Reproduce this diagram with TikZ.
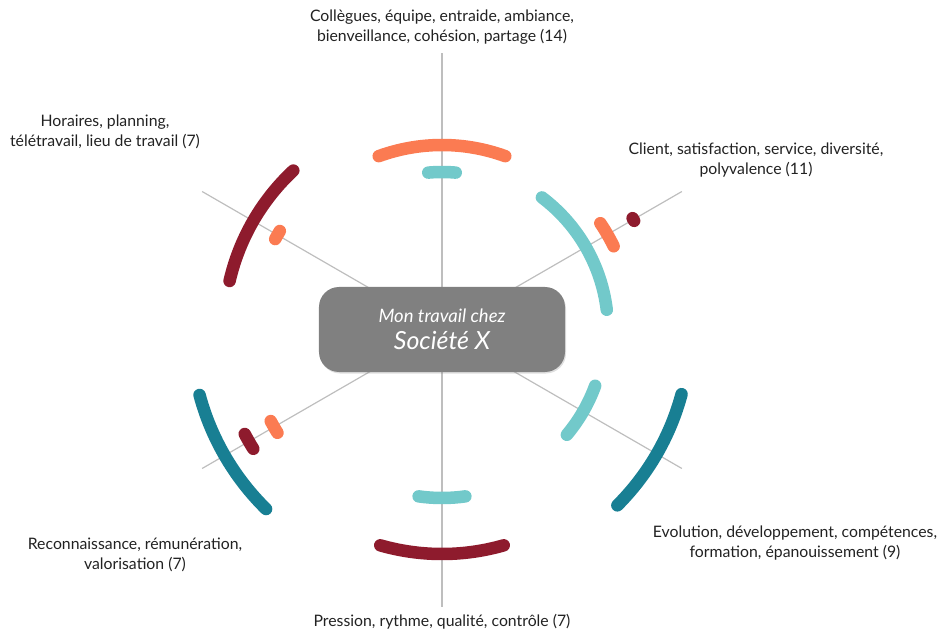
\documentclass[tikz,border=0pt]{standalone}
\usepackage{fontspec}
\setmainfont{Lato}
\usetikzlibrary{shadows}
\definecolor{coral}{HTML}{FB7B52}
\definecolor{lteal}{HTML}{72C9CA}
\definecolor{dred}{HTML}{8E1B2D}
\definecolor{dteal}{HTML}{187F93}
\definecolor{boxgrey}{HTML}{808080}
\definecolor{spokegrey}{HTML}{BEBEBE}
\definecolor{txt}{HTML}{222222}
\tikzset{
  spoke/.style={draw=spokegrey, line width=1.2pt},
  band/.style={line width=12.5pt, line cap=round},
  lbl/.style={align=center, text=txt, font=\fontsize{15.8}{20}\selectfont, inner sep=0pt},
  hub/.style={rounded corners=20pt, fill=boxgrey, minimum width=246pt, minimum height=85pt,
    text=white, align=center, inner sep=0pt, font=\fontsize{25}{27}\selectfont\itshape,
    drop shadow={opacity=0.25, shadow xshift=1pt, shadow yshift=-1.5pt}}
}
\begin{document}
\begin{tikzpicture}[x=1pt,y=1pt]
\useasboundingbox (-442,-302) rectangle (498,330);
\coordinate (C) at (0,0);
\foreach \a/\n in {90/t,30/tr,150/tl,210/bl,330/br,270/b}{
  \coordinate (e\n) at (\a:277);
  \draw[spoke] (C) -- (e\n);
}
% top
\draw[band, coral] (70:185) arc[start angle=70, end angle=110, radius=185];
\draw[band, lteal] (85:158) arc[start angle=85, end angle=95, radius=158];
% bottom
\draw[band, dred] (254:224) arc[start angle=254, end angle=286, radius=224];
\draw[band, lteal] (262:168) arc[start angle=262, end angle=278, radius=168];
% upper left
\draw[band, dred] (133:218) arc[start angle=133, end angle=167, radius=218];
\draw[band, coral] (148.6:190) arc[start angle=148.6, end angle=151.4, radius=190];
% upper right
\draw[band, lteal] (7:166) arc[start angle=7, end angle=53, radius=166];
\draw[band, coral] (26:191) arc[start angle=26, end angle=34, radius=191];
\draw[band, dred] (29.6:221) arc[start angle=29.6, end angle=30.4, radius=221];
% lower left
\draw[band, dteal] (195:251) arc[start angle=195, end angle=225.5, radius=251];
\draw[band, dred] (207.8:223) arc[start angle=207.8, end angle=212.2, radius=223];
\draw[band, coral] (208:194) arc[start angle=208, end angle=212, radius=194];
% lower right
\draw[band, lteal] (320:163) arc[start angle=320, end angle=340, radius=163];
\draw[band, dteal] (315:248) arc[start angle=315, end angle=345, radius=248];
% hub
\node[hub] (hub) at (0,0.5) {{\fontsize{18.5}{20}\selectfont Mon travail chez}\\Société X};
% labels
\node[lbl] (lt) at (0,303) {Collègues, équipe, entraide, ambiance,\\bienveillance, cohésion, partage (14)};
\node[lbl] (ltr) at (314,170) {Client, satisfaction, service, diversité,\\polyvalence (11)};
\node[lbl] (ltl) at (-337,198) {Horaires, planning,\\télétravail, lieu de travail (7)};
\node[lbl] (lbl) at (-307,-225) {Reconnaissance, rémunération,\\valorisation (7)};
\node[lbl] (lbr) at (353,-213) {Evolution, développement, compétences,\\formation, épanouissement (9)};
\node[lbl] (lb) at (0,-292) {Pression, rythme, qualité, contrôle (7)};
\end{tikzpicture}
\end{document}
